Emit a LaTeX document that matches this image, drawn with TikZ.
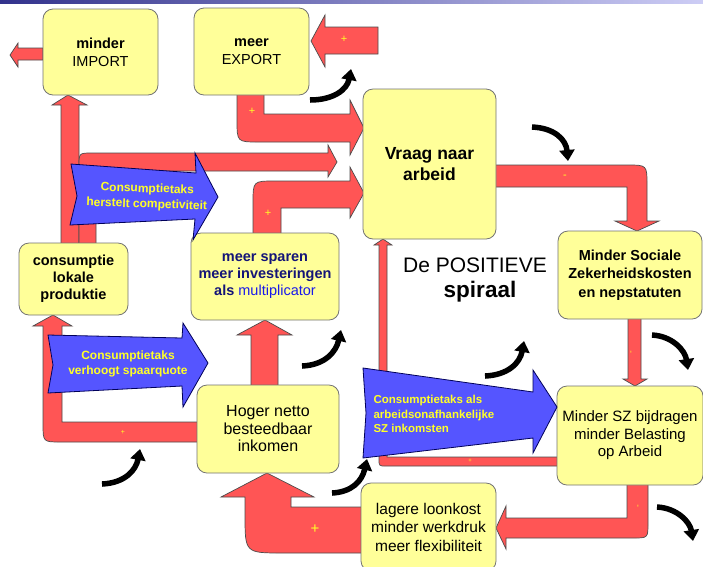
\documentclass[tikz,border=0pt]{standalone}
\usepackage{fontspec}
\setmainfont{Liberation Sans}
\usetikzlibrary{arrows.meta}

\definecolor{boxyellow}{RGB}{255,255,153}
\definecolor{arrowred}{RGB}{255,85,85}
\definecolor{arrowblue}{RGB}{85,85,255}
\definecolor{plusyellow}{RGB}{255,255,40}
\definecolor{navytext}{RGB}{20,20,120}
\definecolor{lighttext}{RGB}{25,25,235}

\tikzset{
	box/.style = {draw=black!55, fill=boxyellow, rounded corners=10pt, line width=0.8pt, align=center, inner sep=0pt},
	redarrow/.style = {draw=black!70, fill=arrowred, line width=0.7pt},
	bluearrow/.style = {draw=blue!35!black, fill=arrowblue, line width=0.8pt},
	bluetext/.style = {text=plusyellow, font=\fontsize{12}{15.5}\selectfont\bfseries, align=center},
	plussign/.style = {text=plusyellow, inner sep=0pt},
	curlyarrow/.style = {line width=5.5pt, -{Triangle[length=11pt,width=15pt]}}
}

\begin{document}
\begin{tikzpicture} [x=1pt, y=-1pt]
		\clip (0,0) rectangle (703,566);
		\fill [white] (0,0) rectangle (703,566);
		\shade [left color={rgb,255:red,50;green,50;blue,140}, right color={rgb,255:red,205;green,205;blue,245}] (0,0) rectangle (703,3);

		% rode pijlen
		\draw [redarrow] (43,48) -- (18,48) -- (18,43) -- (10,55) -- (18,67) -- (18,60) -- (43,60) -- cycle;
		\draw [redarrow] (378,27) -- (325,27) -- (325,15) -- (311,41) -- (325,67) -- (325,54) -- (378,54) -- cycle;
		\draw [redarrow] (264,90) -- (264,114) -- (350,114) -- (350,100) -- (364,128) -- (350,155) -- (350,142) -- (259,142) .. controls (237,142) .. (237,120) -- (237,90) -- cycle;
		\draw [redarrow] (61,248) -- (61,105) -- (52,105) -- (68,95) -- (87,105) -- (79,105) -- (79,248) -- cycle;
		\draw [redarrow] (96,248) -- (96,171) -- (328,171) -- (328,177) -- (337,162) -- (328,145) -- (328,153) -- (92,153) .. controls (79,153) .. (79,166) -- (79,248) -- cycle;
		\draw [redarrow] (281,238) -- (281,208) -- (350,208) -- (350,218) -- (364,193) -- (350,167) -- (350,181) -- (275,181) .. controls (253,181) .. (253,203) -- (253,238) -- cycle;
		\draw [redarrow] (490,165) -- (627,165) .. controls (647,165) .. (647,185) -- (647,221) -- (659,221) -- (637,231) -- (615,221) -- (627,221) -- (627,187) -- (490,187) -- cycle;
		\draw [redarrow] (628,314) -- (628,379) -- (623,379) -- (635,386) -- (647,379) -- (641,379) -- (641,314) -- cycle;
		\draw [redarrow] (627,480) -- (627,518) -- (506,518) -- (506,506) -- (496,528) -- (506,549) -- (506,538) -- (633,538) .. controls (648,538) .. (648,523) -- (648,480) -- cycle;
		\draw [redarrow] (366,507) -- (291,507) -- (291,497) -- (314,497) -- (267,473) -- (221,497) -- (245,497) -- (245,515) .. controls (245,553) .. (283,553) -- (366,553) -- cycle;
		\draw [redarrow] (202,422) -- (62,422) -- (62,326) -- (72,326) -- (53,315) -- (33,326) -- (43,326) -- (43,424) .. controls (43,442) .. (61,442) -- (202,442) -- cycle;
		\draw [redarrow] (251,390) -- (251,335) -- (237,335) -- (265,320) -- (292,335) -- (278,335) -- (278,390) -- cycle;
		\draw [redarrow] (562,457) -- (387,457) -- (387,245) -- (392,245) -- (383,239) -- (374,245) -- (379,245) -- (379,459) .. controls (379,466) .. (386,466) -- (562,466) -- cycle;

		\node [plussign, font=\fontsize{11}{11}\selectfont] (p1) at (344,39) {+};
		\node [plussign, font=\fontsize{11}{11}\selectfont] (p2) at (252,111) {+};
		\node [plussign, font=\fontsize{11}{11}\selectfont] (p3) at (268,213) {+};
		\node [plussign, font=\fontsize{11}{11}\selectfont] (m1) at (565,177) {-};
		\node [plussign, font=\fontsize{8}{8}\selectfont, rotate=90] (m2) at (632,352) {-};
		\node [plussign, font=\fontsize{8}{8}\selectfont, rotate=90] (m3) at (639,506) {-};
		\node [plussign, font=\fontsize{15}{15}\selectfont] (p4) at (315,529) {+};
		\node [plussign, font=\fontsize{7}{7}\selectfont] (p5) at (123,432) {+};
		\node [plussign, font=\fontsize{6}{6}\selectfont] (p6) at (470,461) {+};

		% vakken
		\node [box, minimum width=115pt, minimum height=86pt, font=\fontsize{14.5}{18}\selectfont] (import) at (100.5,52) {\textbf{minder}\\IMPORT};
		\node [box, minimum width=115pt, minimum height=87pt, font=\fontsize{14.5}{18}\selectfont] (export) at (251.5,51.5) {\textbf{meer}\\EXPORT};
		\node [box, minimum width=133pt, minimum height=150pt, font=\fontsize{17.5}{21}\selectfont\bfseries] (vraag) at (429.5,164) {Vraag naar\\arbeid};
		\node [box, minimum width=144pt, minimum height=88pt, font=\fontsize{14.5}{18.5}\selectfont\bfseries] (sociale) at (630,275) {Minder Sociale\\Zekerheidskosten\\en nepstatuten};
		\node [box, minimum width=146pt, minimum height=99pt, font=\fontsize{15}{17.5}\selectfont] (bijdragen) at (630,435.5) {Minder SZ bijdragen\\minder Belasting\\op Arbeid};
		\node [box, minimum width=135pt, minimum height=88pt, font=\fontsize{15.5}{18.5}\selectfont] (loonkost) at (428.5,527) {lagere loonkost\\minder werkdruk\\meer flexibiliteit};
		\node [box, minimum width=142pt, minimum height=88pt, font=\fontsize{16}{17.5}\selectfont] (inkomen) at (268,429) {Hoger netto\\besteedbaar\\inkomen};
		\node [box, minimum width=148pt, minimum height=87pt, font=\fontsize{14.5}{17}\selectfont\bfseries, text=navytext] (sparen) at (265,276.5) {meer sparen\\meer investeringen\\als {\mdseries\color{lighttext}multiplicator}};
		\node [box, minimum width=109pt, minimum height=72pt, font=\fontsize{14.5}{17}\selectfont\bfseries] (lokaal) at (73.5,279) {consumptie\\lokale\\produktie};

		\node [font=\fontsize{21}{21}\selectfont] (titel) at (475,265) {De POSITIEVE};
		\node [font=\fontsize{22.5}{22.5}\selectfont\bfseries] (spiraal) at (480,292) {spiraal};

		% blauwe pijlen
		\draw [bluearrow] (71,164) -- (196,173) -- (195,153) -- (218,197) -- (193,240) -- (195,219) -- (70,225) -- (77,196) -- cycle;
		\draw [bluearrow] (48,335) -- (182,338) -- (183,323) -- (208,363) -- (183,407) -- (182,386) -- (48,393) -- (53,365) -- cycle;
		\draw [bluearrow] (363,368) -- (533,392) -- (533,370) -- (557,407) -- (533,453) -- (533,438) -- (363,458) -- (366,413) -- cycle;
		\node [bluetext, rotate=-2] (taks1) at (147,197) {Consumptietaks\\herstelt competiviteit};
		\node [bluetext] (taks2) at (128,364) {Consumptietaks\\verhoogt spaarquote};
		\node [bluetext, align=left, anchor=west, font=\fontsize{11.5}{14.5}\selectfont\bfseries] (taks3) at (370,414) {Consumptietaks als\\arbeidsonafhankelijke\\SZ inkomsten};

		% zwarte pijltjes
		\draw [curlyarrow] (310,100) .. controls (333,100) and (347,90) .. (351,69);
		\draw [curlyarrow] (532,127) .. controls (555,128) and (566,140) .. (568,161);
		\draw [curlyarrow] (652,335) .. controls (672,336) and (685,350) .. (688,370);
		\draw [curlyarrow] (657,507) .. controls (677,508) and (690,522) .. (693,541);
		\draw [curlyarrow] (302,366) .. controls (325,365) and (336,352) .. (341,330);
		\draw [curlyarrow] (102,484) .. controls (125,483) and (136,470) .. (140,449);
		\draw [curlyarrow] (485,376) .. controls (508,375) and (520,363) .. (524,341);
		\draw [curlyarrow] (332,493) .. controls (352,492) and (362,481) .. (367,459);
	\end{tikzpicture}
\end{document}
